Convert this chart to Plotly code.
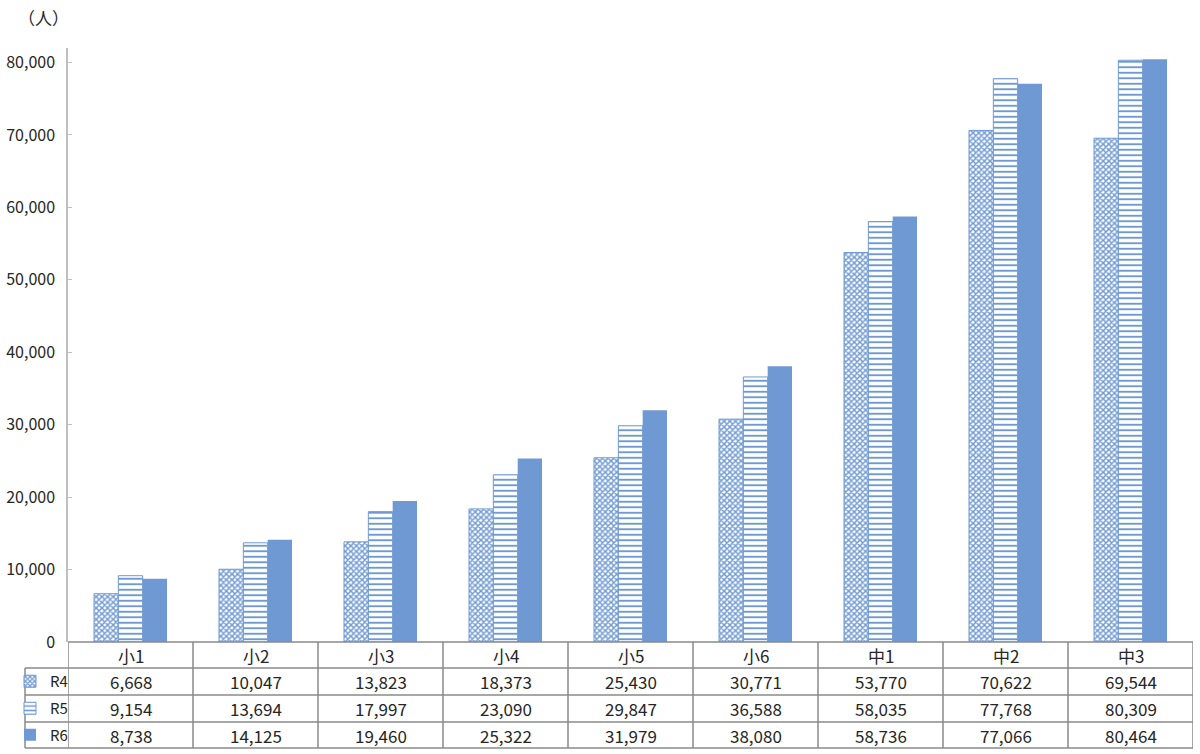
import plotly.graph_objects as go

categories = ["小1", "小2", "小3", "小4", "小5", "小6", "中1", "中2", "中3"]
series_names = ["R4", "R5", "R6"]
r4 = [6668, 10047, 13823, 18373, 25430, 30771, 53770, 70622, 69544]
r5 = [9154, 13694, 17997, 23090, 29847, 36588, 58035, 77768, 80309]
r6 = [8738, 14125, 19460, 25322, 31979, 38080, 58736, 77066, 80464]
y_ticks = [0, 10000, 20000, 30000, 40000, 50000, 60000, 70000, 80000]
unit_label = "（人）"

BLUE = "#6F99D2"
TXT = "#262626"
FONT = "Noto Sans CJK JP"
GRID = "#8A8A8A"

W, H = 1200, 754
L, R, T, B = 68, 7, 48, 112
PH = H - T - B  # plot height in px


def py(px):
    """pixel y -> paper y"""
    return (H - B - px) / PH


def px_x(px):
    return (px - L) / (W - L - R)


fig = go.Figure()

fig.add_trace(go.Bar(
    x=categories, y=r4, name=series_names[0], legend="legend",
    marker=dict(color="white", line=dict(color=BLUE, width=1),
                pattern=dict(shape="x", fgcolor=BLUE, bgcolor="white", size=4,
                             solidity=0.6, fillmode="replace")),
))
fig.add_trace(go.Bar(
    x=categories, y=r5, name=series_names[1], legend="legend2",
    marker=dict(color="white", line=dict(color=BLUE, width=1),
                pattern=dict(shape="-", fgcolor=BLUE, bgcolor="white", size=5.5,
                             solidity=0.35, fillmode="replace")),
))
fig.add_trace(go.Bar(
    x=categories, y=r6, name=series_names[2], legend="legend3",
    marker=dict(color=BLUE, line=dict(color=BLUE, width=0)),
))

# table geometry (pixels)
row_edges = [642, 668, 695, 722, 748]
left_px = 25
n = len(categories)

shapes = []
line = dict(color=GRID, width=1.5)
shapes.append(dict(type="line", xref="x", yref="paper", x0=-0.5, x1=n - 0.5,
                   y0=py(row_edges[0]), y1=py(row_edges[0]), line=line))
for ye in row_edges[1:]:
    shapes.append(dict(type="line", xref="paper", yref="paper", x0=px_x(left_px), x1=1,
                       y0=py(ye), y1=py(ye), line=line))
for i in range(n + 1):
    shapes.append(dict(type="line", xref="x", yref="paper", x0=i - 0.5, x1=i - 0.5,
                       y0=py(row_edges[0]), y1=py(row_edges[-1]), line=line))
shapes.append(dict(type="line", xref="paper", yref="paper", x0=px_x(left_px), x1=px_x(left_px),
                   y0=py(row_edges[1]), y1=py(row_edges[-1]), line=line))

annotations = []
row_centers = [(row_edges[k] + row_edges[k + 1]) / 2 for k in range(4)]
afont = dict(family=FONT, size=17, color=TXT)
for i, c in enumerate(categories):
    annotations.append(dict(x=i, y=py(row_centers[0]), xref="x", yref="paper", text=c,
                            xanchor="center", yanchor="middle", showarrow=False, font=afont))
for k, vals in enumerate([r4, r5, r6]):
    for i, v in enumerate(vals):
        annotations.append(dict(x=i, y=py(row_centers[k + 1]), xref="x", yref="paper",
                                text=f"{v:,}", xanchor="center", yanchor="middle",
                                showarrow=False, font=afont))
annotations.append(dict(x=px_x(43), y=py(17), xref="paper", yref="paper", text=unit_label,
                        xanchor="center", yanchor="middle", showarrow=False, font=afont))

leg_common = dict(x=px_x(10), xanchor="left", yanchor="middle", bgcolor="rgba(0,0,0,0)",
                  borderwidth=0, font=dict(family=FONT, size=15, color=TXT),
                  itemwidth=30, tracegroupgap=0)
fig.update_layout(
    width=W, height=H, showlegend=True,
    margin=dict(l=L, r=R, t=T, b=B, autoexpand=False),
    paper_bgcolor="white", plot_bgcolor="white",
    barmode="group", bargap=0.416, bargroupgap=0,
    font=dict(family=FONT, color=TXT),
    xaxis=dict(range=[-0.5, n - 0.5], showticklabels=False, ticks="", showgrid=False,
               showline=False, zeroline=False),
    yaxis=dict(range=[0, 82000], tickvals=y_ticks, tickformat=",", showgrid=False,
               zeroline=False, showline=True, linecolor="#BFBFBF", linewidth=1.5,
               ticks="inside", ticklen=4, tickcolor="#BFBFBF",
               tickfont=dict(family=FONT, size=16, color=TXT), ticklabelstandoff=8),
    shapes=shapes, annotations=annotations,
    legend=dict(y=py(row_centers[1]), **leg_common),
    legend2=dict(y=py(row_centers[2]), **leg_common),
    legend3=dict(y=py(row_centers[3]), **leg_common),
)

fig.write_html("out.html", config={"displayModeBar": False},
               post_script="document.body.style.margin='0';document.body.style.overflow='hidden';")
